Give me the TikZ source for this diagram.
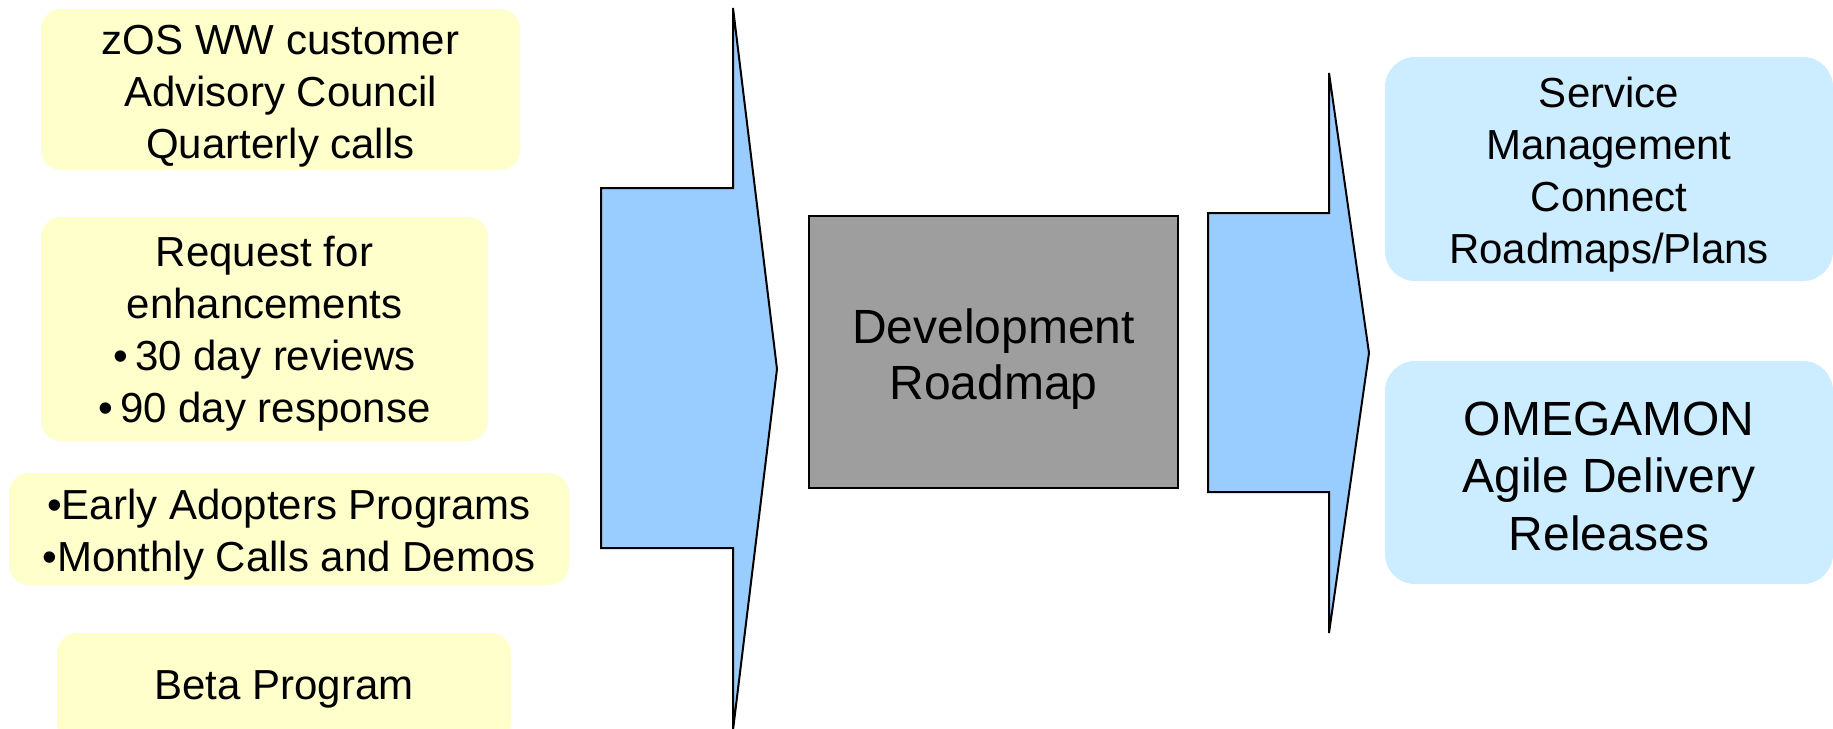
\documentclass[tikz,border=0pt]{standalone}
\usepackage{fontspec}
\setmainfont{Liberation Sans}
\definecolor{ylw}{HTML}{FFFFCC}
\definecolor{lblue}{HTML}{CCECFF}
\definecolor{arrblue}{HTML}{99CCFF}
\definecolor{devgray}{HTML}{9E9E9E}
\tikzset{
  ybox/.style={fill=ylw, draw=none, rounded corners=20pt, align=center, inner sep=0pt},
  bbox/.style={fill=lblue, draw=none, rounded corners=30pt, align=center, inner sep=0pt},
  txt/.style={font=\fontsize{42}{52}\selectfont, align=center, inner sep=0pt},
  bigtxt/.style={font=\fontsize{48}{57.5}\selectfont, align=center, inner sep=0pt},
  blockarrow/.style={fill=arrblue, draw=black, line width=2pt, line join=miter},
  devbox/.style={fill=devgray, draw=black, line width=2.5pt, inner sep=0pt}
}
\begin{document}
\begin{tikzpicture}[x=1pt,y=-1pt]
\useasboundingbox (0,0) rectangle (1833,728);
\begin{scope}
\clip (0,0) rectangle (1833,728);
% left input boxes
\node[ybox, minimum width=479pt, minimum height=161pt] (b1) at (280.5,89.5) {};
\node[txt] (t1) at (280.5,96) {zOS WW customer\\Advisory Council\\Quarterly calls};
\node[ybox, minimum width=447pt, minimum height=224pt] (b2) at (264.5,329) {};
\node[txt] (t2) at (264.5,334) {Request for\\enhancements\\\textbullet\,30 day reviews\\\textbullet\,90 day response};
\node[ybox, minimum width=560pt, minimum height=112pt] (b3) at (289,529) {};
\node[txt] (t3) at (289,535) {\textbullet Early Adopters Programs\\\textbullet Monthly Calls and Demos};
\node[ybox, minimum width=454pt, minimum height=110pt] (b4) at (284,688) {};
\node[txt] (t4) at (284,689) {Beta Program};
% big arrow 1
\coordinate (a1tip) at (777,369);
\draw[blockarrow] (601,188) -- (733,188) -- (733,8) -- (a1tip) -- (733,730) -- (733,548) -- (601,548) -- cycle;
% development roadmap
\node[devbox, minimum width=369pt, minimum height=272pt] (dev) at (993.5,352) {};
\node[bigtxt, font=\fontsize{48}{56}\selectfont] (devt) at (993.5,359) {Development\\Roadmap};
% arrow 2
\coordinate (a2tip) at (1369,353);
\draw[blockarrow] (1208,213) -- (1329,213) -- (1329,73) -- (a2tip) -- (1329,633) -- (1329,492) -- (1208,492) -- cycle;
% right output boxes
\node[bbox, minimum width=448pt, minimum height=224pt] (b5) at (1609,169) {};
\node[txt] (t5) at (1609,175) {Service\\Management\\Connect\\Roadmaps/Plans};
\node[bbox, minimum width=448pt, minimum height=223pt] (b6) at (1609,472.5) {};
\node[bigtxt] (t6) at (1609,476) {OMEGAMON\\Agile Delivery\\Releases};
\end{scope}
\end{tikzpicture}
\end{document}
